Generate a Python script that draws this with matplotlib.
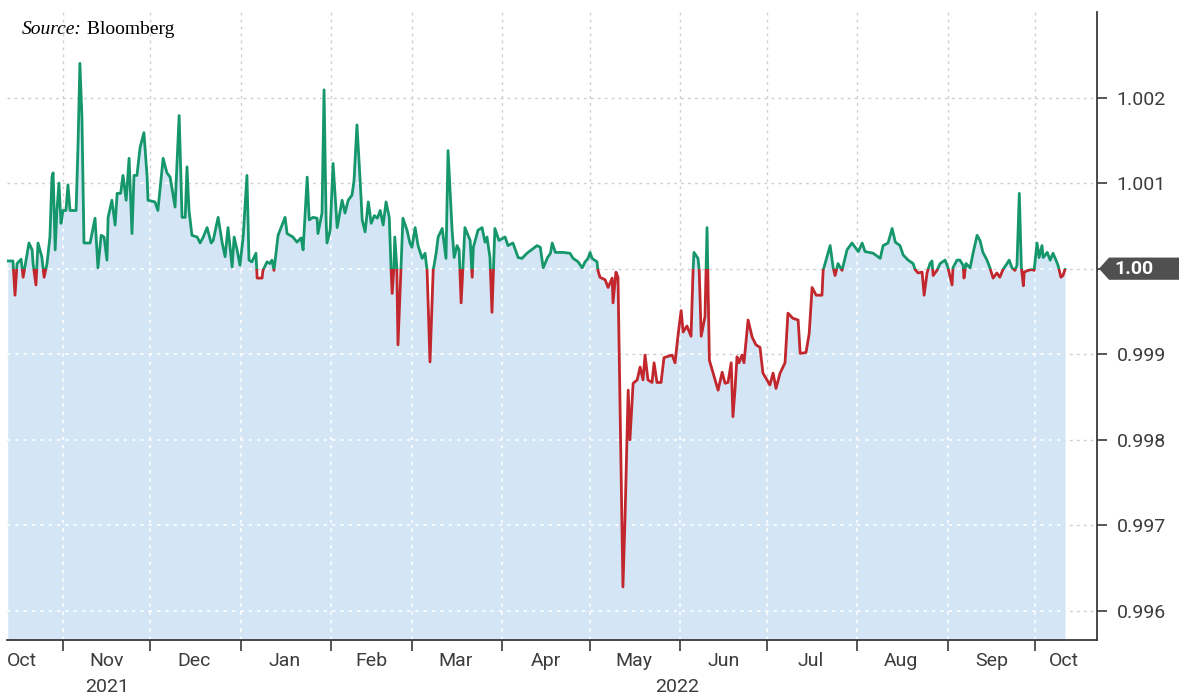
import numpy as np
import pandas as pd
import matplotlib
matplotlib.use("Agg")
import matplotlib.pyplot as plt
import matplotlib.dates as mdates
from matplotlib.patches import Rectangle, Polygon
from matplotlib.transforms import blended_transform_factory

plt.rcParams['font.family'] = ['Roboto', 'DejaVu Sans']

# Stablecoin price: day offsets from 13 Oct 2021, price in USD
start = pd.Timestamp('2021-10-13')
days = [0, 1.8, 2.5, 3.2, 4.6, 5.3, 5.9, 7.3, 8.4, 8.7, 9.7, 10.4, 11.7, 12.5, 13.5, 14.5,
        15.2, 15.6, 16.3, 16.9, 17.6, 18.3, 19.0, 20.0, 20.7, 21.4, 23.5, 24.2, 24.8, 25.5,
        26.2, 28.3, 30.0, 31.0, 32.1, 33.1, 34.1, 34.5, 35.8, 36.9, 37.6, 38.8, 39.6, 40.7,
        41.7, 42.7, 43.4, 44.4, 45.5, 46.8, 47.9, 48.2, 50.6, 51.6, 53.4, 54.7, 55.8, 57.5,
        58.9, 59.9, 61.0, 61.6, 62.3, 63.3, 65.1, 66.1, 67.2, 68.5, 69.9, 70.6, 72.3, 73.7,
        74.7, 75.7, 77.1, 77.8, 78.8, 79.8, 80.9, 82.2, 82.9, 83.9, 85.3, 85.7, 87.4, 87.7,
        89.1, 90.1, 90.8, 91.5, 92.9, 95.3, 96.0, 98.0, 99.4, 100.8, 101.5, 102.9, 103.6,
        104.9, 106.3, 106.6, 108.0, 108.7, 109.4, 109.7, 110.8, 111.8, 113.2, 114.9, 115.9,
        117.0, 118.3, 119.0, 120.0, 121.1, 121.8, 122.8, 123.9, 124.9, 126.0, 127.0, 128.0,
        129.0, 130.0, 131.1, 131.7, 132.1, 132.7, 133.0, 133.7, 134.1, 135.1, 135.8, 137.2,
        138.2, 138.9, 140.0, 141.0, 142.4, 143.4, 144.1, 145.1, 146.2, 147.2, 147.9, 149.3,
        150.6, 151.3, 152.7, 153.4, 154.4, 155.1, 155.8, 157.1, 158.9, 159.6, 160.0, 161.6,
        163.0, 164.0, 164.7, 165.7, 166.4, 167.4, 168.8, 170.9, 171.9, 173.6, 175.4, 176.7,
        178.4, 181.9, 183.0, 184.0, 185.5, 186.5, 187.1, 188.2, 190.9, 193.2, 194.3, 196.0,
        197.4, 198.4, 199.4, 200.1, 200.8, 202.5, 202.8, 203.5, 205.3, 206.3, 207.7, 208.0,
        209.0, 209.7, 211.4, 212.1, 213.2, 213.8, 214.9, 216.3, 217.3, 218.3, 219.0, 220.0,
        221.4, 222.1, 223.1, 224.5, 225.5, 228.3, 229.3, 230.4, 231.4, 232.1, 233.4, 234.8,
        235.5, 235.8, 237.2, 237.6, 238.3, 239.6, 240.3, 241.1, 242.4, 244.1, 245.5, 246.5,
        247.5, 248.6, 249.2, 249.9, 250.6, 251.3, 252.3, 253.0, 254.4, 255.8, 257.1, 258.5,
        259.5, 260.9, 261.9, 263.0, 264.0, 265.4, 267.1, 268.1, 269.8, 271.6, 272.3, 274.3,
        275.4, 276.4, 277.8, 279.8, 280.2, 281.2, 282.6, 283.6, 284.3, 285.3, 286.7, 288.4,
        290.1, 291.2, 292.3, 293.6, 294.6, 297.4, 299.8, 300.8, 302.5, 303.9, 305.0, 306.6,
        307.7, 309.4, 311.1, 311.8, 312.8, 314.2, 314.9, 315.9, 316.9, 317.6, 318.0, 319.3,
        320.4, 322.1, 323.1, 324.5, 324.8, 326.2, 327.2, 328.3, 328.6, 329.3, 330.7, 331.7,
        333.1, 334.1, 335.1, 336.5, 337.5, 338.6, 339.9, 340.9, 342.0, 343.4, 344.1, 345.1,
        346.1, 346.8, 347.6, 348.3, 349.0, 349.3, 350.6, 352.0, 352.7, 353.7, 354.4, 355.4,
        355.8, 357.2, 358.2, 359.2, 360.2, 360.9, 361.9, 362.6, 363.3]
price = [1.00009, 1.00009, 0.99969, 1.00006, 1.00011, 0.99990, 1.00002, 1.00030, 1.00022,
         1.00006, 0.99981, 1.00030, 1.00014, 0.99990, 1.00006, 1.00037, 1.00107, 1.00112,
         1.00022, 1.00068, 1.00100, 1.00053, 1.00068, 1.00068, 1.00098, 1.00068, 1.00068,
         1.00150, 1.00240, 1.00177, 1.00030, 1.00030, 1.00059, 1.00001, 1.00039, 1.00037,
         1.00010, 1.00060, 1.00080, 1.00051, 1.00088, 1.00088, 1.00109, 1.00080, 1.00129,
         1.00041, 1.00109, 1.00109, 1.00142, 1.00159, 1.00107, 1.00080, 1.00078, 1.00068,
         1.00129, 1.00112, 1.00107, 1.00072, 1.00179, 1.00060, 1.00060, 1.00119, 1.00068,
         1.00039, 1.00037, 1.00030, 1.00037, 1.00048, 1.00030, 1.00033, 1.00060, 1.00030,
         1.00014, 1.00048, 1.00002, 1.00037, 1.00022, 1.00004, 1.00037, 1.00109, 1.00010,
         1.00008, 1.00018, 0.99989, 0.99989, 0.99998, 1.00008, 1.00006, 1.00010, 0.99998,
         1.00039, 1.00060, 1.00041, 1.00037, 1.00031, 1.00036, 1.00022, 1.00107, 1.00057,
         1.00060, 1.00059, 1.00041, 1.00065, 1.00209, 1.00057, 1.00030, 1.00045, 1.00123,
         1.00048, 1.00080, 1.00065, 1.00080, 1.00086, 1.00103, 1.00168, 1.00103, 1.00057,
         1.00043, 1.00078, 1.00053, 1.00062, 1.00059, 1.00068, 1.00051, 1.00078, 1.00060,
         1.00002, 0.99971, 1.00001, 1.00037, 1.00001, 0.99911, 0.99998, 1.00059, 1.00045,
         1.00030, 1.00025, 1.00048, 1.00027, 1.00012, 1.00018, 0.99998, 0.99891, 0.99998,
         1.00018, 1.00037, 1.00047, 1.00012, 1.00138, 1.00045, 1.00013, 1.00027, 1.00022,
         0.99960, 1.00048, 1.00033, 0.99990, 1.00025, 1.00045, 1.00048, 1.00031, 1.00037,
         1.00013, 0.99949, 1.00047, 1.00033, 1.00037, 1.00027, 1.00030, 1.00013, 1.00012,
         1.00018, 1.00027, 1.00025, 1.00001, 1.00013, 1.00018, 1.00030, 1.00019, 1.00019,
         1.00018, 1.00012, 1.00008, 1.00001, 1.00008, 1.00012, 1.00019, 1.00012, 1.00008,
         0.99998, 0.99990, 0.99987, 0.99978, 0.99989, 0.99960, 0.99996, 0.99990, 0.99628,
         0.99706, 0.99858, 0.99800, 0.99866, 0.99870, 0.99885, 0.99870, 0.99899, 0.99870,
         0.99867, 0.99890, 0.99867, 0.99867, 0.99896, 0.99899, 0.99890, 0.99924, 0.99951,
         0.99926, 0.99933, 0.99921, 0.99998, 1.00019, 1.00012, 0.99998, 0.99921, 0.99944,
         1.00048, 0.99893, 0.99878, 0.99858, 0.99879, 0.99866, 0.99867, 0.99890, 0.99827,
         0.99858, 0.99897, 0.99890, 0.99899, 0.99890, 0.99940, 0.99920, 0.99911, 0.99908,
         0.99878, 0.99870, 0.99864, 0.99878, 0.99860, 0.99878, 0.99890, 0.99948, 0.99942,
         0.99940, 0.99901, 0.99902, 0.99924, 0.99978, 0.99969, 0.99969, 0.99998, 1.00010,
         1.00027, 1.00002, 0.99992, 1.00006, 0.99998, 1.00022, 1.00030, 1.00025, 1.00020,
         1.00030, 1.00020, 1.00018, 1.00012, 1.00027, 1.00030, 1.00047, 1.00031, 1.00027,
         1.00016, 1.00010, 1.00006, 0.99999, 0.99995, 0.99996, 0.99969, 0.99995, 1.00006,
         1.00009, 0.99992, 0.99998, 1.00006, 1.00010, 1.00001, 0.99981, 1.00001, 1.00010,
         1.00010, 1.00004, 0.99989, 1.00006, 1.00001, 1.00018, 1.00039, 1.00033, 1.00019,
         1.00010, 1.00001, 0.99989, 0.99995, 0.99990, 0.99999, 1.00006, 1.00010, 1.00001,
         0.99998, 1.00004, 1.00088, 1.00002, 0.99980, 0.99996, 0.99998, 0.99999, 0.99998,
         1.00030, 1.00013, 1.00027, 1.00013, 1.00019, 1.00010, 1.00018, 1.00010, 1.00004,
         0.99990, 0.99992, 0.99999]

month_labels = ['Oct', 'Nov', 'Dec', 'Jan', 'Feb', 'Mar', 'Apr', 'May', 'Jun', 'Jul',
                'Aug', 'Sep', 'Oct']
month_label_dates = ['2021-10-18', '2021-11-16', '2021-12-16', '2022-01-16', '2022-02-15',
                     '2022-03-16', '2022-04-16', '2022-05-16', '2022-06-16', '2022-07-16',
                     '2022-08-16', '2022-09-16', '2022-10-11']
year_labels = ['2021', '2022']
year_label_dates = ['2021-11-16', '2022-05-31']
y_ticks = [0.996, 0.997, 0.998, 0.999, 1.000, 1.001, 1.002]
peg = 1.0

dates = start + pd.to_timedelta(days, unit='D')
x = mdates.date2num(dates)

green = '#15976b'
red = '#c1272d'
fill_blue = '#d4e6f6'
grid_grey = '#cfcfcf'
ink = '#3a3a3a'

fig = plt.figure(figsize=(11.81, 6.98), dpi=100)
ax = fig.add_axes([7 / 1181, 1 - 640 / 698, 1090 / 1181, 628 / 698])

x0 = mdates.date2num(start - pd.Timedelta(days=0.25))
x1 = mdates.date2num(start + pd.Timedelta(days=374.3))
ymin, ymax = 0.99566, 1.00300
ax.set_xlim(x0, x1)
ax.set_ylim(ymin, ymax)

# area under the price line
area = ax.fill_between(x, price, ymin, color=fill_blue, lw=0, zorder=1)

month_starts = mdates.date2num(pd.date_range('2021-11-01', '2022-10-01', freq='MS'))

# grey dotted grid on white, white dotted grid over the blue area
for yv in y_ticks:
    ax.axhline(yv, color=grid_grey, lw=1, ls=(0, (2, 3)), zorder=0)
for xv in month_starts:
    ax.axvline(xv, color=grid_grey, lw=1, ls=(0, (2, 3)), zorder=0)
clip = area.get_paths()[0]
for yv in y_ticks:
    ln = ax.axhline(yv, color='white', lw=1.2, ls=(0, (2, 3)), zorder=1.5)
    ln.set_clip_path(clip, ax.transData)
for xv in month_starts:
    ln = ax.axvline(xv, color='white', lw=1.2, ls=(0, (2, 3)), zorder=1.5)
    ln.set_clip_path(clip, ax.transData)

# price line: green above the peg, red below
above = Rectangle((x0, peg), x1 - x0, ymax - peg, transform=ax.transData)
below = Rectangle((x0, ymin), x1 - x0, peg - ymin, transform=ax.transData)
lg, = ax.plot(x, price, color=green, lw=2.0, zorder=3)
lg.set_clip_path(above)
lr, = ax.plot(x, price, color=red, lw=2.0, zorder=3)
lr.set_clip_path(below)

# axes styling
for side in ['left', 'top']:
    ax.spines[side].set_visible(False)
for side in ['right', 'bottom']:
    ax.spines[side].set_color(ink)
    ax.spines[side].set_linewidth(1.3)

ax.yaxis.tick_right()
ax.set_yticks(y_ticks)
ax.set_yticklabels(['%.3f' % v if v != peg else '' for v in y_ticks])
ax.tick_params(axis='y', direction='out', length=7, width=1.2, color=ink,
               labelsize=14, labelcolor='#3c3c3c', pad=7)

ax.set_xticks(month_starts)
ax.set_xticklabels([])
ax.tick_params(axis='x', which='major', direction='out', length=8, width=1.2, color=ink)
ax.set_xticks(mdates.date2num(pd.to_datetime(month_label_dates)), minor=True)
ax.set_xticklabels(month_labels, minor=True)
ax.tick_params(axis='x', which='minor', length=0, labelsize=14, labelcolor='#3c3c3c', pad=9)

trans = blended_transform_factory(ax.transData, ax.transAxes)
for lab, d in zip(year_labels, year_label_dates):
    ax.text(mdates.date2num(pd.Timestamp(d)), -0.075, lab, transform=trans,
            ha='center', va='center', fontsize=14, color='#3c3c3c')

# current value marker on the right axis
mark = blended_transform_factory(fig.transFigure, ax.transData)
h = 0.00013
tag = Polygon([(1099 / 1181, peg), (1109 / 1181, peg + h), (1179 / 1181, peg + h),
               (1179 / 1181, peg - h), (1109 / 1181, peg - h)], closed=True,
              facecolor='#505050', edgecolor='none', transform=mark, clip_on=False, zorder=5)
fig.add_artist(tag)
fig.text(1114 / 1181, peg, '1.00', transform=mark, ha='left', va='center',
         fontsize=14, fontweight='bold', color='white', zorder=6)

# source note
src = ax.text(15 / 1090, 1 - 18 / 628, 'Source:', transform=ax.transAxes, ha='left',
              va='center', fontsize=14, fontstyle='italic', color='black',
              family=['Liberation Serif', 'DejaVu Serif'])
ax.annotate(' Bloomberg', xy=(1, 0.5), xycoords=src, ha='left', va='center',
            fontsize=14, color='black', family=['Liberation Serif', 'DejaVu Serif'])

fig.savefig('out.png', dpi=100, facecolor='white')
